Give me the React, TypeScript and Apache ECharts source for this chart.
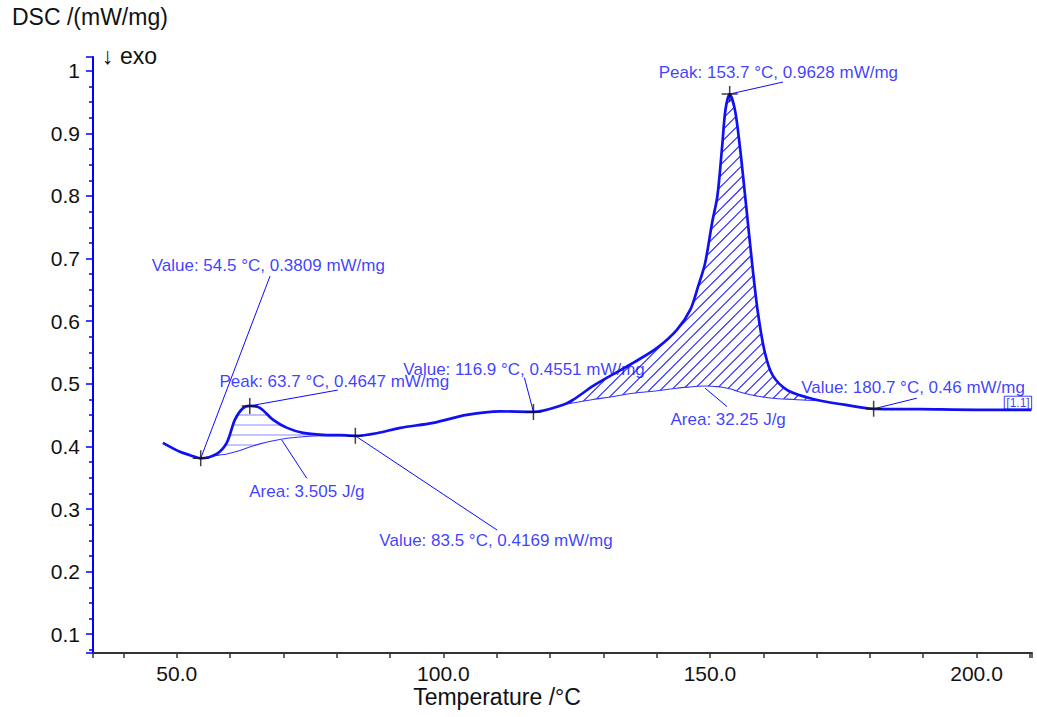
import { useEffect, useRef } from 'react';
import * as echarts from 'echarts';

// DSC curve (temperature °C, DSC mW/mg)
const curveT = [47.4, 50.6, 52.5, 54.5, 57.5, 59.4, 60.9, 62.4, 63.7, 65.6, 68.1, 70.7, 73.7, 77.4, 80.6, 83.5, 87.5, 91.9, 98.1, 104.4, 110.6, 116.9, 122.4, 124.3, 128.1, 131.3, 135.6, 140.1, 143.8, 146.3, 147.8, 149.1, 150.4, 151.4, 152.3, 152.9, 153.7, 154.7, 155.6, 156.6, 157.9, 159.0, 160.3, 161.8, 164.5, 168.3, 171.0, 175.7, 180.7, 189.4, 200.0, 210.3];
const curveV = [0.4057, 0.3914, 0.386, 0.3809, 0.388, 0.406, 0.4424, 0.461, 0.4647, 0.4615, 0.4424, 0.4296, 0.4217, 0.4185, 0.418, 0.4169, 0.421, 0.4296, 0.4376, 0.4503, 0.456, 0.4551, 0.4662, 0.4742, 0.4965, 0.5126, 0.5334, 0.5573, 0.586, 0.618, 0.656, 0.693, 0.757, 0.80, 0.88, 0.937, 0.9628, 0.937, 0.88, 0.80, 0.693, 0.6135, 0.55, 0.513, 0.49, 0.478, 0.4725, 0.466, 0.46, 0.4595, 0.4585, 0.4585];

// integration baselines
const base1T = [54.5, 57.5, 59.4, 60.9, 62.4, 63.7, 65.6, 68.1, 70.7, 73.7, 77.4, 80.6, 83.5];
const base1V = [0.3809, 0.3855, 0.388, 0.391, 0.395, 0.399, 0.404, 0.409, 0.413, 0.4155, 0.417, 0.4172, 0.4169];
const base2T = [122.4, 124.3, 128.1, 131.3, 135.6, 140.1, 143.8, 146.3, 147.8, 149.1, 150.4, 151.4, 152.3, 152.9, 153.7, 154.7, 155.6, 156.6, 157.9, 159.0, 160.3, 161.8, 164.5, 168.3, 171.0];
const base2V = [0.4662, 0.4694, 0.475, 0.479, 0.485, 0.489, 0.493, 0.495, 0.496, 0.4965, 0.4962, 0.4955, 0.4945, 0.4935, 0.492, 0.4895, 0.487, 0.4845, 0.482, 0.480, 0.4785, 0.477, 0.4755, 0.4738, 0.4725];

// evaluated points (crosshairs)
const markerT = [54.5, 63.7, 83.5, 116.9, 153.7, 180.7];
const markerV = [0.3809, 0.4647, 0.4169, 0.4551, 0.9628, 0.46];

// annotations
const annoText = [
  'Value: 54.5 °C, 0.3809 mW/mg',
  'Peak: 63.7 °C, 0.4647 mW/mg',
  'Area: 3.505 J/g',
  'Value: 83.5 °C, 0.4169 mW/mg',
  'Value: 116.9 °C, 0.4551 mW/mg',
  'Peak: 153.7 °C, 0.9628 mW/mg',
  'Area: 32.25 J/g',
  'Value: 180.7 °C, 0.46 mW/mg',
];
const annoT = [45.4, 58.1, 63.7, 88.1, 92.6, 140.5, 142.7, 167.2];
const annoV = [0.688, 0.503, 0.3275, 0.249, 0.522, 0.997, 0.442, 0.493];

// leader lines
const leaderFromT = [54.5, 63.7, 69.7, 83.5, 116.9, 153.7, 149.1, 180.7];
const leaderFromV = [0.3809, 0.4647, 0.4102, 0.4169, 0.4551, 0.9628, 0.493, 0.46];
const leaderToT = [67.5, 80.2, 74.4, 110.1, 115.2, 163.7, 153.2, 188.8];
const leaderToV = [0.672, 0.49, 0.349, 0.2663, 0.51, 0.982, 0.4636, 0.477];

const tagText = ['[1.1]'];
const tagT = [205.3];
const tagV = [0.469];

const FONT = "'Liberation Sans', Arial, sans-serif";
const BLUE = '#0c0cff';

type Pt = number[];

// hatch segments inside polygon: lines of constant f(p) spaced by step
function hatchSegments(poly: Pt[], f: (p: Pt) => number, step: number) {
  let lo = Infinity;
  let hi = -Infinity;
  poly.forEach((p) => {
    const v = f(p);
    lo = Math.min(lo, v);
    hi = Math.max(hi, v);
  });
  const segs: Pt[][] = [];
  const n = poly.length;
  for (let c = Math.ceil(lo / step) * step + step * 0.5; c < hi; c += step) {
    const pts: Pt[] = [];
    for (let i = 0; i < n; i++) {
      const a = poly[i];
      const b = poly[(i + 1) % n];
      const fa = f(a) - c;
      const fb = f(b) - c;
      if ((fa < 0) !== (fb < 0)) {
        const t = fa / (fa - fb);
        pts.push([a[0] + t * (b[0] - a[0]), a[1] + t * (b[1] - a[1])]);
      }
    }
    pts.sort((p, q) => p[0] - q[0]);
    for (let k = 0; k + 1 < pts.length; k += 2) segs.push([pts[k], pts[k + 1]]);
  }
  return segs;
}

function makeHatch(baseT: number[], baseV: number[], mode: 'h' | 'd', step: number, color: string, width: number) {
  return (params: any, api: any) => {
    if (params.dataIndex !== 0) return null;
    const top: Pt[] = baseT.map((t) => api.coord([t, curveV[curveT.indexOf(t)]]));
    const bottom: Pt[] = baseT.map((t, i) => api.coord([t, baseV[i]])).reverse();
    const poly = top.concat(bottom);
    const f = mode === 'h' ? (p: Pt) => p[1] : (p: Pt) => p[0] + p[1];
    const segs = hatchSegments(poly, f, step);
    return {
      type: 'group',
      children: segs.map((s) => ({
        type: 'line',
        shape: { x1: s[0][0], y1: s[0][1], x2: s[1][0], y2: s[1][1] },
        style: { stroke: color, lineWidth: width },
        silent: true,
      })),
    };
  };
}

export default function App() {
  const ref = useRef<HTMLDivElement>(null);
  useEffect(() => {
    const chart = echarts.init(ref.current!, null, { renderer: 'svg' });
    const curveData = curveT.map((t, i) => [t, curveV[i]]);
    const b1 = base1T.map((t, i) => [t, base1V[i]]);
    const b2 = base2T.map((t, i) => [t, base2V[i]]);
    const SMOOTH = 0.3;

    const option: any = {
      animation: false,
      grid: { left: 93, right: 5, top: 57, bottom: 64, containLabel: false, outerBoundsMode: 'none' },
      xAxis: {
        type: 'value', min: 34.3, max: 210.4, splitNumber: 3,
        axisLine: { show: true, onZero: false, lineStyle: { color: '#333', width: 2 } },
        axisTick: { show: true, length: 5, lineStyle: { color: '#333', width: 1.5 } },
        minorTick: { show: true, splitNumber: 5, length: 5, lineStyle: { color: '#333', width: 1.5 } },
        axisLabel: {
          formatter: (v: number) => (Math.abs(v / 50 - Math.round(v / 50)) < 1e-6 ? v.toFixed(1) : ''),
          color: '#111', fontSize: 21, fontFamily: FONT, margin: 10,
        },
        splitLine: { show: false },
        minorSplitLine: { show: false },
      },
      yAxis: {
        type: 'value', min: 0.07, max: 1.022, splitNumber: 10,
        axisLine: { show: true, onZero: false, lineStyle: { color: '#0000ff', width: 2 } },
        axisTick: { show: true, length: 7, lineStyle: { color: '#0000ff', width: 1.5 } },
        minorTick: { show: true, splitNumber: 4, length: 4, lineStyle: { color: '#0000ff', width: 1.5 } },
        axisLabel: {
          formatter: (v: number) => (Math.abs(v * 10 - Math.round(v * 10)) < 1e-6 ? String(Math.round(v * 10) / 10) : ''),
          color: '#111', fontSize: 21, fontFamily: FONT, margin: 13,
        },
        splitLine: { show: false },
        minorSplitLine: { show: false },
      },
      graphic: [
        { type: 'text', x: 12, y: 17, style: { text: 'DSC /(mW/mg)', fontSize: 23, fontFamily: FONT, fill: '#111', align: 'left', verticalAlign: 'middle' } },
        { type: 'text', x: 102, y: 56, style: { text: '↓ exo', fontSize: 23, fontFamily: FONT, fill: '#111', align: 'left', verticalAlign: 'middle' } },
        { type: 'text', x: 497, y: 697, style: { text: 'Temperature /°C', fontSize: 23, fontFamily: FONT, fill: '#111', align: 'center', verticalAlign: 'middle' } },
      ],
      series: [
        { type: 'custom', name: 'hatch1', data: [[base1T[0], base1V[0]]], renderItem: makeHatch(base1T, base1V, 'h', 10, '#8c8cff', 1.1), z: 2, silent: true },
        { type: 'custom', name: 'hatch2', data: [[base2T[0], base2V[0]]], renderItem: makeHatch(base2T, base2V, 'd', 11, '#2020ff', 1.1), z: 2, silent: true },
        { type: 'line', name: 'base1', data: b1, symbol: 'none', smooth: SMOOTH, lineStyle: { color: '#3434ff', width: 1.1 }, z: 3 },
        { type: 'line', name: 'base2', data: b2, symbol: 'none', smooth: SMOOTH, lineStyle: { color: '#3434ff', width: 1.1 }, z: 3 },
        { type: 'line', name: 'DSC', data: curveData, symbol: 'none', smooth: SMOOTH, lineStyle: { color: '#1010f0', width: 2.7 }, z: 5 },
        {
          type: 'lines', coordinateSystem: 'cartesian2d', silent: true, z: 6,
          lineStyle: { color: BLUE, width: 1, opacity: 1, curveness: 0 },
          data: leaderFromT.map((t, i) => ({ coords: [[t, leaderFromV[i]], [leaderToT[i], leaderToV[i]]] })),
        },
        {
          type: 'scatter', name: 'markers', z: 10, silent: true,
          data: markerT.map((t, i) => [t, markerV[i]]),
          symbol: 'path://M10 0 L10 20 M0 10 L20 10', symbolSize: 16,
          itemStyle: { color: 'rgba(0,0,0,0)', borderColor: '#111', borderWidth: 1.5 },
        },
        {
          type: 'scatter', name: 'annotations', z: 11, silent: true,
          data: annoT.map((t, i) => [t, annoV[i], annoText[i]]),
          symbolSize: 1, itemStyle: { color: 'rgba(0,0,0,0)' },
          label: { show: true, position: [0, 0], align: 'left', verticalAlign: 'middle', formatter: (p: any) => p.data[2], color: BLUE, fontSize: 17, fontFamily: FONT },
        },
        {
          type: 'scatter', name: 'tag', z: 11, silent: true,
          data: tagT.map((t, i) => [t, tagV[i], tagText[i]]),
          symbolSize: 1, itemStyle: { color: 'rgba(0,0,0,0)' },
          label: { show: true, position: [0, 0], align: 'left', verticalAlign: 'middle', formatter: (p: any) => p.data[2], color: BLUE, fontSize: 12, fontFamily: FONT, borderColor: BLUE, borderWidth: 1, padding: [1, 2, 0, 2] },
        },
      ],
    };
    chart.setOption(option);
    return () => chart.dispose();
  }, []);
  return <div ref={ref} style={{ position: 'absolute', left: 0, top: 0, width: 1037, height: 717 }} />;
}
